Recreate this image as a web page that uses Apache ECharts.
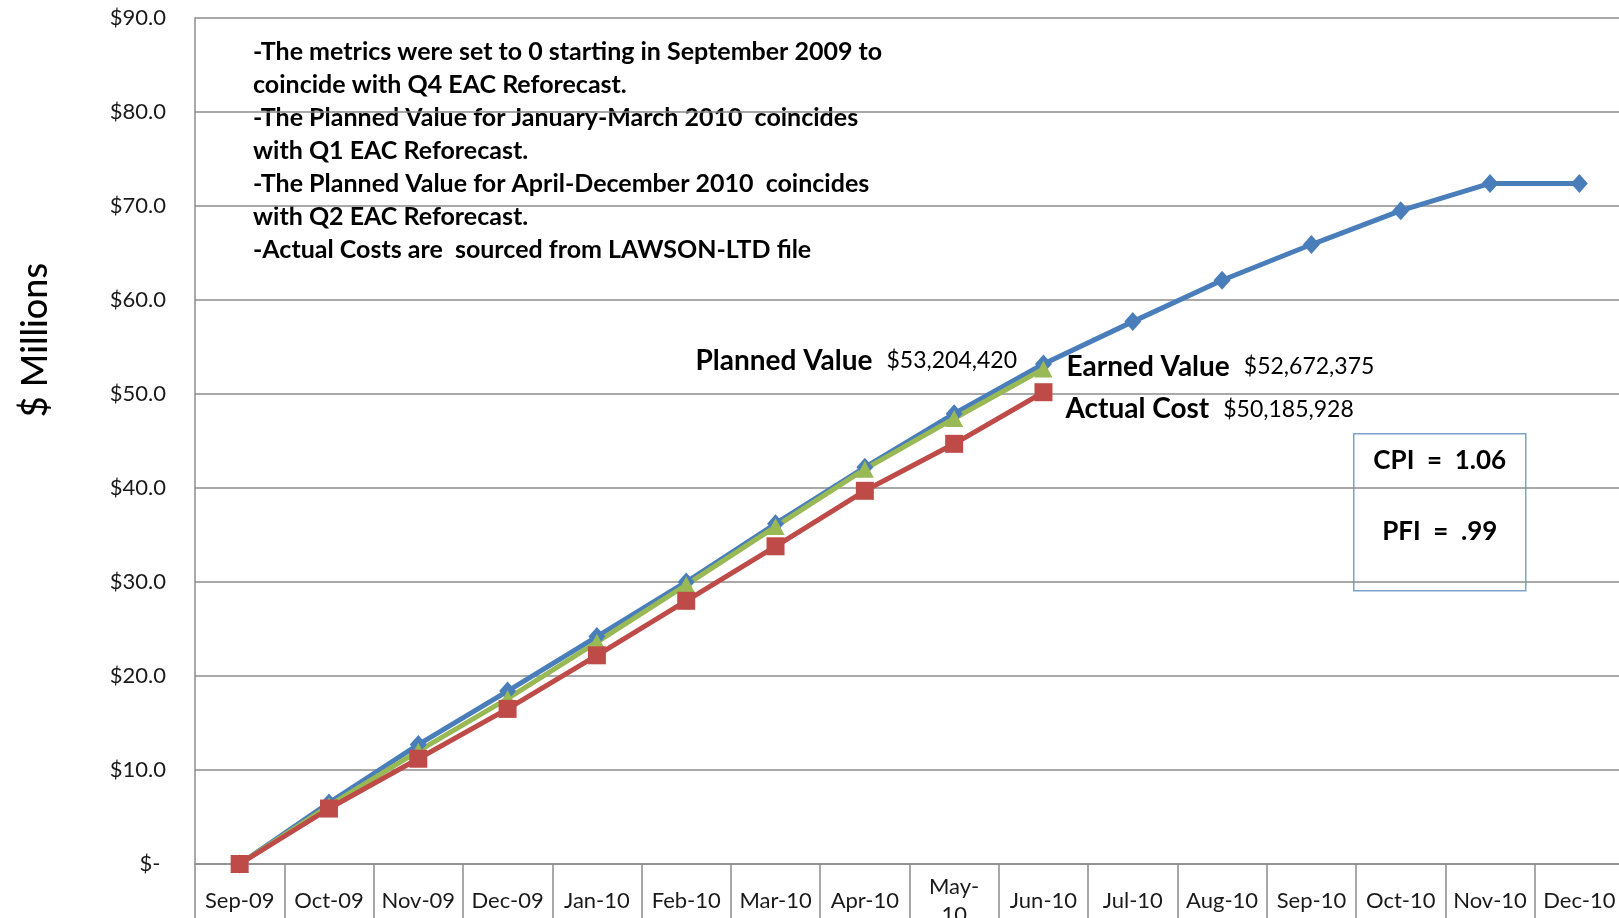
<!DOCTYPE html>
<html>
<head>
<meta charset="utf-8">
<title>Earned Value</title>
<script src="https://cdn.jsdelivr.net/npm/echarts@6/dist/echarts.min.js"></script>
<style>
html, body { margin: 0; padding: 0; background: #fff; overflow: hidden; }
#main { width: 1619px; height: 918px; }
</style>
</head>
<body>
<div id="main"></div>
<script>
var months = ['Sep-09', 'Oct-09', 'Nov-09', 'Dec-09', 'Jan-10', 'Feb-10', 'Mar-10', 'Apr-10',
    'May-10', 'Jun-10', 'Jul-10', 'Aug-10', 'Sep-10', 'Oct-10', 'Nov-10', 'Dec-10'];
// $ millions
var plannedValue = [0, 6.5, 12.7, 18.4, 24.2, 30.0, 36.2, 42.2, 47.9, 53.2, 57.7, 62.1, 65.9, 69.5, 72.4, 72.4];
var earnedValue = [0, 6.2, 12.0, 17.6, 23.6, 29.7, 35.9, 42.0, 47.4, 52.67];
var actualCost = [0, 5.9, 11.2, 16.5, 22.2, 28.0, 33.8, 39.7, 44.7, 50.19];
var yMin = 0, yMax = 90, yStep = 10;

var notes = [
    '-The metrics were set to 0 starting in September 2009 to',
    'coincide with Q4 EAC Reforecast.',
    '-The Planned Value for January-March 2010  coincides',
    'with Q1 EAC Reforecast.',
    '-The Planned Value for April-December 2010  coincides',
    'with Q2 EAC Reforecast.',
    '-Actual Costs are  sourced from LAWSON-LTD file'
];
var indexText = ['CPI  =  1.06', 'PFI  =  .99'];

var statusMonth = 9; // Jun-10
var font = 'Lato, "Open Sans", sans-serif';

function withLabel(values, name, amount, pos, dist, off) {
    return values.map(function (v, i) {
        if (i !== statusMonth) return v;
        return {
            value: v,
            label: {
                show: true,
                position: pos,
                distance: dist,
                offset: off,
                formatter: '{n|' + name + '}{g|}{a|' + amount + '}',
                rich: {
                    n: { fontFamily: font, fontWeight: 'bold', fontSize: 28, color: '#000' },
                    g: { width: 14 },
                    a: { fontFamily: font, fontSize: 23, color: '#000' }
                }
            }
        };
    });
}

var chart = echarts.init(document.getElementById('main'));

var option = {
    animation: false,
    backgroundColor: '#fff',
    grid: { left: 195, right: -5, top: 18, bottom: 54, outerBoundsMode: 'none', containLabel: false },
    xAxis: {
        type: 'category',
        data: months,
        boundaryGap: true,
        axisLine: { show: true, lineStyle: { color: '#8c8c8c', width: 1.5 } },
        axisTick: { show: true, length: 70, lineStyle: { color: '#8c8c8c', width: 1.5 } },
        axisLabel: {
            interval: 0,
            margin: 37,
            verticalAlign: 'middle',
            lineHeight: 28,
            fontFamily: font,
            fontSize: 22,
            color: '#1a1a1a',
            formatter: function (v) { return v === 'May-10' ? 'May-\n10' : v; }
        }
    },
    yAxis: {
        type: 'value',
        min: yMin,
        max: yMax,
        interval: yStep,
        name: '$ Millions',
        nameLocation: 'middle',
        nameRotate: 90,
        nameGap: 142,
        nameTextStyle: { fontFamily: font, fontSize: 36, color: '#000', fontWeight: 500, padding: [0, 0, 0, 202] },
        axisLine: { show: true, lineStyle: { color: '#8c8c8c', width: 1.5 } },
        axisTick: { show: false },
        splitLine: { show: true, lineStyle: { color: '#8c8c8c', width: 1.5 } },
        axisLabel: {
            margin: 29,
            fontFamily: font,
            fontSize: 22,
            color: '#1a1a1a',
            formatter: function (v) { return v === 0 ? '$- ' : '$' + v.toFixed(1); }
        }
    },
    series: [{
        name: 'Planned Value',
        type: 'line',
        data: withLabel(plannedValue, 'Planned Value', '$53,204,420', 'left', 18, [0, -3]),
        symbol: 'diamond',
        symbolSize: [17, 19],
        lineStyle: { color: '#4a7ebb', width: 5 },
        itemStyle: { color: '#4a7ebb' }
    }, {
        name: 'Earned Value',
        type: 'line',
        data: withLabel(earnedValue, 'Earned Value', '$52,672,375', 'right', 14, [0, -2]),
        symbol: 'triangle',
        symbolSize: [18, 17],
        lineStyle: { color: '#98b954', width: 5 },
        itemStyle: { color: '#98b954' }
    }, {
        name: 'Actual Cost',
        type: 'line',
        data: withLabel(actualCost, 'Actual Cost', '$50,185,928', 'right', 13, [0, 17]),
        symbol: 'rect',
        symbolSize: 18,
        lineStyle: { color: '#be4b48', width: 5 },
        itemStyle: { color: '#be4b48' }
    }],
    graphic: [{
        type: 'group',
        left: 236,
        top: 26,
        children: [{
            type: 'rect',
            shape: { x: 0, y: 0, width: 688, height: 246 },
            style: { fill: '#fff' }
        }, {
            type: 'text',
            x: 17,
            y: 9,
            style: {
                text: notes.join('\n'),
                fontFamily: font,
                fontWeight: 'bold',
                fontSize: 25,
                lineHeight: 33,
                fill: '#000'
            }
        }]
    }, {
        type: 'group',
        left: 1353,
        top: 433,
        children: [{
            type: 'rect',
            shape: { x: 0, y: 0, width: 172, height: 157 },
            style: { fill: '#fff', stroke: '#7ea1cf', lineWidth: 1.5 }
        }, {
            type: 'text',
            x: 86,
            y: 27,
            style: {
                text: indexText[0],
                fontFamily: font,
                fontWeight: 'bold',
                fontSize: 26,
                fill: '#000',
                align: 'center',
                verticalAlign: 'middle'
            }
        }, {
            type: 'text',
            x: 86,
            y: 98,
            style: {
                text: indexText[1],
                fontFamily: font,
                fontWeight: 'bold',
                fontSize: 26,
                fill: '#000',
                align: 'center',
                verticalAlign: 'middle'
            }
        }]
    }]
};

chart.setOption(option);
</script>
</body>
</html>
